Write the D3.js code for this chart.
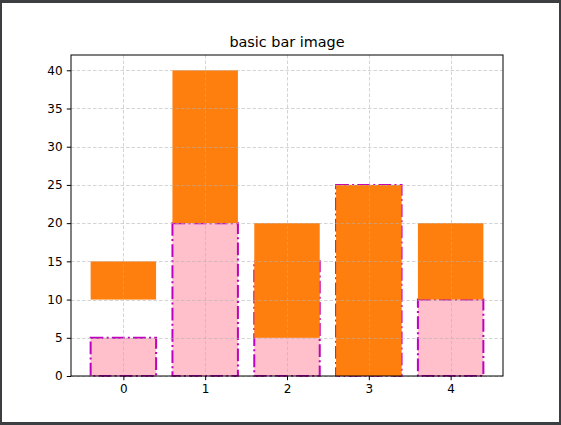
<!DOCTYPE html>
<html><head><meta charset="utf-8">
<script src="https://cdn.jsdelivr.net/npm/d3@7"></script>
<style>html,body{margin:0;padding:0;background:#3c3f41;}svg{display:block;}</style>
</head><body>
<script>
const categories = [0, 1, 2, 3, 4];
const pinkValues = [5, 20, 15, 25, 10];
const orangeBottoms = [10, 20, 5, 0, 10];
const orangeValues = [5, 20, 15, 25, 10];
const yTicks = [0, 5, 10, 15, 20, 25, 30, 35, 40];
const title = "basic bar image";

const W = 561, H = 425;
const svg = d3.select("body").append("svg").attr("width", W).attr("height", H);
svg.append("rect").attr("x", 0).attr("y", 0).attr("width", W).attr("height", H).attr("fill", "#3c3f41");
svg.append("rect").attr("x", 2).attr("y", 3).attr("width", 557).attr("height", 419).attr("fill", "#fff");

const L = 71, R = 503, T = 55, B = 376;
const x = d3.scaleLinear().domain([-0.64, 4.64]).range([L, R]);
const y = d3.scaleLinear().domain([0, 42]).range([B, T]);
const bw = 0.8;

const g = svg.append("g");
// pink bars
g.selectAll("rect.pink").data(categories).enter().append("rect")
  .attr("x", d => x(d - bw / 2)).attr("width", d => x(d + bw / 2) - x(d - bw / 2))
  .attr("y", (d, i) => y(pinkValues[i])).attr("height", (d, i) => y(0) - y(pinkValues[i]))
  .attr("fill", "#ffc0cb").attr("stroke", "#bf00bf").attr("stroke-width", 2)
  .attr("stroke-dasharray", "12.8,3.2,2,3.2");
// orange bars
g.selectAll("rect.orange").data(categories).enter().append("rect")
  .attr("x", d => x(d - bw / 2)).attr("width", d => x(d + bw / 2) - x(d - bw / 2))
  .attr("y", (d, i) => y(orangeBottoms[i] + orangeValues[i]))
  .attr("height", (d, i) => y(orangeBottoms[i]) - y(orangeBottoms[i] + orangeValues[i]))
  .attr("fill", "#ff7f0e");

// grid
const grid = svg.append("g").attr("stroke", "#b0b0b0").attr("stroke-opacity", 0.55)
  .attr("stroke-width", 1).attr("stroke-dasharray", "3.5,2");
yTicks.forEach(t => grid.append("line").attr("x1", L).attr("x2", R).attr("y1", Math.round(y(t)) + 0.5).attr("y2", Math.round(y(t)) + 0.5));
categories.forEach(c => grid.append("line").attr("y1", T).attr("y2", B).attr("x1", Math.round(x(c)) + 0.5).attr("x2", Math.round(x(c)) + 0.5));

// axes
const xAxis = d3.axisBottom(x).tickValues(categories).tickSize(4.2).tickPadding(4.2).tickFormat(d3.format("d"));
const yAxis = d3.axisLeft(y).tickValues(yTicks).tickSize(4.2).tickPadding(4.2).tickFormat(d3.format("d"));
const gx = svg.append("g").attr("transform", `translate(0,${B})`).call(xAxis);
const gy = svg.append("g").attr("transform", `translate(${L},0)`).call(yAxis);
[gx, gy].forEach(a => {
  a.select(".domain").remove();
  a.selectAll("text").attr("font-family", "DejaVu Sans").attr("font-size", 12).attr("fill", "#000");
  a.selectAll("line").attr("stroke", "#000").attr("stroke-width", 1);
});

// spines
svg.append("rect").attr("x", L).attr("y", T).attr("width", R - L).attr("height", B - T)
  .attr("fill", "none").attr("stroke", "#000").attr("stroke-width", 1);

svg.append("text").attr("x", (L + R) / 2).attr("y", 47).attr("text-anchor", "middle")
  .attr("font-family", "DejaVu Sans").attr("font-size", 14.4).attr("fill", "#000").text(title);
</script>
</body></html>
